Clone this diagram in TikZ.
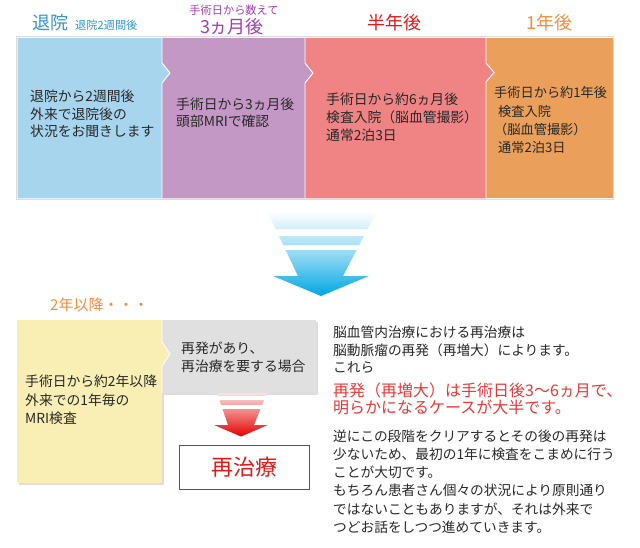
\documentclass[tikz,border=0pt]{standalone}
\usepackage{fontspec}
\newfontfamily\jp{Noto Sans CJK JP}
\definecolor{txt}{RGB}{40,40,40}
\definecolor{pblue}{RGB}{166,213,237}
\definecolor{ppurple}{RGB}{196,152,196}
\definecolor{ppink}{RGB}{240,132,132}
\definecolor{porange}{RGB}{234,160,90}
\definecolor{pyellow}{RGB}{249,238,180}
\definecolor{pgray}{RGB}{224,224,224}
\definecolor{tblue}{RGB}{50,150,210}
\definecolor{tpurple}{RGB}{165,60,175}
\definecolor{tred}{RGB}{225,25,25}
\definecolor{torange}{RGB}{245,140,60}
\definecolor{rtext}{RGB}{235,55,55}
\definecolor{arrowblue}{RGB}{0,166,226}
\definecolor{arrowred}{RGB}{228,0,0}
\definecolor{shadowgray}{RGB}{220,220,220}
\begin{document}
\begin{tikzpicture}[x=1pt,y=-1pt,
  body/.style={font=\jp\fontsize{13.8}{17.5}\selectfont, text=txt, align=left, inner sep=0pt, anchor=base west},
  title/.style={font=\jp\fontsize{18}{18}\selectfont, inner sep=0pt, anchor=base},
  smalltitle/.style={font=\jp\fontsize{11.2}{11.2}\selectfont, inner sep=0pt},
  sep/.style={draw=white, line width=0.9pt, line join=miter}]
\useasboundingbox (0,0) rectangle (640,548);
\fill[white] (0,0) rectangle (640,548);

% ---------- titles ----------
\node[title, text=tblue, anchor=base west] (t1) at (32,29.5) {退院};
\node[smalltitle, text=tblue, anchor=base west] (t1s) at (75,29.5) {退院2週間後};
\node[smalltitle, text=tpurple, anchor=base] (t2s) at (234,15) {手術日から数えて};
\node[title, text=tpurple] (t2) at (232,34) {3ヵ月後};
\node[title, text=tred] (t3) at (394,29.5) {半年後};
\node[title, text=torange] (t4) at (549,29.5) {1年後};

% ---------- top panels ----------
\draw[shadowgray, line width=1pt] (16,37) rectangle (613.5,199.5);
\fill[porange] (486,38) rectangle (612.5,198.5);
\fill[ppink] (305,38) -- (486,38) -- (486,63) -- (494,72.5) -- (486,82) -- (486,198.5) -- (305,198.5) -- cycle;
\fill[ppurple] (162,38) -- (305,38) -- (305,63) -- (313,73) -- (305,83) -- (305,198.5) -- (162,198.5) -- cycle;
\fill[pblue] (17.5,38) -- (162,38) -- (162,63) -- (170,73) -- (162,83) -- (162,198.5) -- (17.5,198.5) -- cycle;
\draw[sep] (162,38) -- (162,63) -- (170,73) -- (162,83) -- (162,198.5);
\draw[sep] (305,38) -- (305,63) -- (313,73) -- (305,83) -- (305,198.5);
\draw[sep] (486,38) -- (486,63) -- (494,72.5) -- (486,82) -- (486,198.5);

% (multi-line nodes: anchor base = baseline of the last line)
\node[body] (p1) at (30,136.8) {退院から2週間後\\外来で退院後の\\状況をお聞きします};
\node[body] (p2) at (176,126.8) {手術日から3ヵ月後\\頭部MRIで確認};
\node[body, font=\jp\fontsize{13.8}{18.3}\selectfont] (p3) at (326,140.9) {手術日から約6ヵ月後\\検査入院（脳血管撮影）\\通常2泊3日};
\node[body, font=\jp\fontsize{13.2}{18.2}\selectfont] (p4) at (494,152.6) {手術日から約1年後\\\hspace*{4pt}検査入院\\（脳血管撮影）\\\hspace*{4pt}通常2泊3日};

% ---------- blue arrow ----------
\shade[top color=white, bottom color=arrowblue, middle color=arrowblue!42]
  (267,211) -- (377,211) -- (343,276) -- (369,276) -- (321,296) -- (273,276) -- (298,276) -- cycle;
\fill[white] (255,229) rectangle (390,236);
\fill[white] (255,245) rectangle (390,250);

% ---------- lower panels ----------
\node[font=\jp\fontsize{15}{15}\selectfont, text=torange, inner sep=0pt, anchor=base west] (t5) at (50,310.7) {2年以降・・・};

\fill[shadowgray] (18.5,321.5) rectangle (164,485);
\fill[shadowgray] (163,321.5) rectangle (318,395);
\fill[pgray] (162,320) rectangle (316,393);
\fill[pyellow] (17,320) -- (162,320) -- (162,342) -- (170,354) -- (162,366) -- (162,483) -- (17,483) -- cycle;
\draw[sep] (162,320) -- (162,342) -- (170,354) -- (162,366) -- (162,393);

\node[body, font=\jp\fontsize{13.8}{18.3}\selectfont] (p5) at (25,423.4) {手術日から約2年以降\\外来での1年毎の\\MRI検査};
\node[body, font=\jp\fontsize{13.8}{18.3}\selectfont] (p6) at (181,371.6) {再発があり、\\再治療を要する場合};

% ---------- red arrow ----------
\shade[top color=arrowred!12, bottom color=arrowred, middle color=arrowred!55]
  (217,393) -- (267,393) -- (254,425) -- (268,425) -- (241,436.5) -- (214,425) -- (228,425) -- cycle;
\fill[white] (205,396) rectangle (280,400);
\fill[white] (205,405) rectangle (280,408.5);

\node[draw=tred, line width=1pt, fill=white, minimum width=130pt, minimum height=44pt,
      inner sep=0pt, text=tred, font=\jp\fontsize{22}{22}\selectfont] (re) at (244.5,467) {再治療};

% ---------- right text ----------
\node[body, font=\jp\fontsize{13.7}{17.5}\selectfont] (r1) at (333,372.7) {脳血管内治療における再治療は\\脳動脈瘤の再発（再増大）によります。\\これら};
\node[body, text=rtext, font=\jp\fontsize{16}{17.5}\selectfont] (r2) at (333,413.5) {再発（再増大）は手術日後3～6ヵ月で、\\明らかになるケースが大半です。};
\node[body, font=\jp\fontsize{13.7}{18.2}\selectfont] (r3) at (333,532.2) {逆にこの段階をクリアするとその後の再発は\\少ないため、最初の1年に検査をこまめに行う\\ことが大切です。\\もちろん患者さん個々の状況により原則通り\\ではないこともありますが、それは外来で\\つどお話をしつつ進めていきます。};
\end{tikzpicture}
\end{document}
